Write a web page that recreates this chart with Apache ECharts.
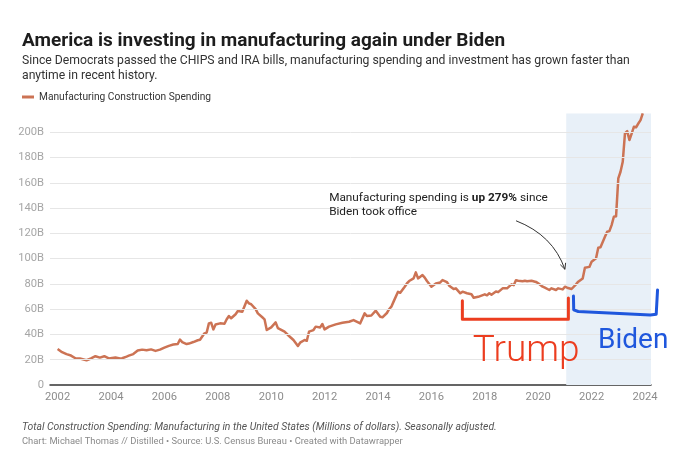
<!DOCTYPE html>
<html>
<head>
<meta charset="utf-8">
<script src="https://cdn.jsdelivr.net/npm/echarts@6/dist/echarts.min.js"></script>
<style>
html,body{margin:0;padding:0;background:#fff;}
#c{width:680px;height:468px;}
</style>
</head>
<body>
<div id="c"></div>
<script>
// ---- data ----
const seriesName = 'Manufacturing Construction Spending';
const months = [
"2002-01","2002-03","2002-05","2002-07","2002-09","2002-11","2003-02","2003-04","2003-06","2003-08","2003-10","2003-12",
"2004-03","2004-05","2004-06","2004-08","2004-09","2004-11","2005-01","2005-03","2005-05","2005-07","2005-09","2005-11",
"2006-01","2006-03","2006-05","2006-07","2006-08","2006-09","2006-11","2006-12","2007-02","2007-04","2007-05","2007-07",
"2007-08","2007-09","2007-10","2007-11","2007-12","2008-02","2008-04","2008-05","2008-06","2008-07","2008-09","2008-10",
"2008-12","2009-02","2009-03","2009-04","2009-06","2009-07","2009-09","2009-10","2009-11","2010-01","2010-03","2010-04",
"2010-07","2010-09","2010-11","2011-01","2011-02","2011-04","2011-05","2011-06","2011-08","2011-09","2011-11","2011-12",
"2012-01","2012-03","2012-06","2012-09","2012-12","2013-02","2013-05","2013-07","2013-08","2013-10","2013-12","2014-02",
"2014-03","2014-05","2014-06","2014-07","2014-08","2014-10","2014-11","2015-01","2015-02","2015-03","2015-05","2015-06",
"2015-07","2015-09","2015-10","2015-11","2016-01","2016-03","2016-05","2016-06","2016-08","2016-09","2016-11","2016-12",
"2017-02","2017-03","2017-05","2017-07","2017-08","2017-10","2018-01","2018-02","2018-03","2018-04","2018-06","2018-07",
"2018-09","2018-11","2019-01","2019-02","2019-03","2019-04","2019-06","2019-07","2019-08","2019-10","2019-12","2020-01",
"2020-03","2020-04","2020-06","2020-07","2020-09","2020-10","2020-12","2021-01","2021-02","2021-04","2021-06","2021-07",
"2021-09","2021-10","2021-12","2022-01","2022-03","2022-04","2022-05","2022-07","2022-08","2022-09","2022-10","2022-11",
"2022-12","2023-01","2023-02","2023-03","2023-04","2023-05","2023-06","2023-07","2023-08","2023-09","2023-10","2023-11",
"2023-12"
];
const spending = [
28.5,26,24.4,23.3,21.2,21,19.6,21,22.8,21.7,22.8,21,
21.8,21,21.2,22.5,23.2,24.5,27.3,28,27.5,28.2,27,28,
29.6,31,32,32.5,36,34,32.4,32.8,34,35.4,35.8,40.9,
41.5,48.8,49.3,44,47.9,48.8,48.5,52,54.6,52.8,56,58.6,
58,66.7,64.6,63.9,60,56.7,53.6,52,43.5,45.6,49.6,45,
42.2,38.8,35.6,30.9,33.5,35.6,35,42.2,43.5,46.2,45.6,48.3,
44,46.2,48,49.3,50.1,51.4,48.8,56.7,54.6,55,58.8,54,
53.6,57,60,62,66,73.8,73,77.8,80.4,82.3,84.4,89.2,
84.4,87,85,82.3,77.8,80.4,81.2,83.1,81.5,78.6,76,76.5,
72.6,73.9,72.6,71.8,69.1,69.8,71.8,71,72.6,71.5,74,73.5,
76.5,76.5,79.7,79,82.9,82.5,82.1,82.5,82.1,82.5,81.6,80.5,
77.8,77,75.2,76.5,75.2,76.5,75.7,77.8,77,76,79.7,81.8,
84.4,92.9,93.5,97.6,100.3,108.7,109,117.4,121.3,121.8,126.6,133.2,
133.5,163.6,168.8,176.7,199.2,201,193.9,199,204.4,204,207,209.7,
215
];
const xTickYears = [2002,2004,2006,2008,2010,2012,2014,2016,2018,2020,2022,2024];
const yGridValues = [20,40,60,80,100,120,140,160,180,200];
const xMin = 2001.715, xMax = 2024.225;
const yMin = 0, yMax = 215, yStep = 20;
const bidenStart = 2021.05;

const titleText = 'America is investing in manufacturing again under Biden';
const subtitleText = 'Since Democrats passed the CHIPS and IRA bills, manufacturing spending and investment has grown faster than\nanytime in recent history.';
const noteText = 'Total Construction Spending: Manufacturing in the United States (Millions of dollars). Seasonally adjusted.';
const creditText = 'Chart: Michael Thomas // Distilled \u2022 Source: U.S. Census Bureau \u2022 Created with Datawrapper';

// ---- build ----
const toYear = s => +s.slice(0,4) + (+s.slice(5,7) - 1) / 12;
const lineData = months.map((m, i) => [toYear(m), spending[i]]);

const FONT = 'Roboto';
const chart = echarts.init(document.getElementById('c'), null, {renderer: 'canvas'});

chart.setOption({
  animation: false,
  backgroundColor: '#fff',
  title: [{
    text: titleText,
    subtext: subtitleText,
    left: 17, top: 27,
    itemGap: 2,
    textStyle: {fontFamily: FONT, fontSize: 19, fontWeight: 'bold', color: '#1d1d1d'},
    subtextStyle: {fontFamily: FONT, fontSize: 12.2, color: '#333', lineHeight: 15}
  }, {
    text: noteText,
    subtext: creditText,
    left: 17, top: 417,
    itemGap: 5,
    textStyle: {fontFamily: FONT, fontSize: 10.4, fontStyle: 'italic', fontWeight: 'normal', color: '#555'},
    subtextStyle: {fontFamily: FONT, fontSize: 9.4, color: '#8a8a8a'}
  }],
  legend: {
    data: [seriesName],
    left: 17, top: 87,
    icon: 'rect', itemWidth: 12, itemHeight: 3, itemGap: 6,
    textStyle: {fontFamily: FONT, fontSize: 10.2, color: '#333'},
    selectedMode: false
  },
  grid: {left: 50, right: 29, top: 113.4, bottom: 83, containLabel: false},
  xAxis: {
    type: 'value', min: xMin, max: xMax,
    axisLine: {show: true, onZero: false, lineStyle: {color: '#333', width: 1.5}},
    axisTick: {show: false},
    splitLine: {show: false},
    axisLabel: {
      customValues: xTickYears, margin: 7,
      fontFamily: FONT, fontSize: 11.2, color: '#8c8c8c',
      formatter: v => String(Math.round(v))
    }
  },
  yAxis: {
    type: 'value', min: yMin, max: yMax, interval: yStep,
    axisLine: {show: false}, axisTick: {show: false},
    splitLine: {show: false},
    axisLabel: {
      showMaxLabel: false, margin: 6,
      fontFamily: FONT, fontSize: 11.2, color: '#a6a6a6',
      formatter: v => v > 200 ? '' : (v === 0 ? '0' : v + 'B')
    }
  },
  series: [{
    type: 'line', name: '__shade', data: [], silent: true, z: 1,
    markArea: {
      silent: true,
      itemStyle: {color: '#e8f0f8'},
      data: [[{xAxis: bidenStart}, {xAxis: xMax}]]
    }
  }, {
    type: 'line', name: '__grid', data: [], silent: true, z: 2,
    markLine: {
      silent: true, symbol: ['none', 'none'], animation: false,
      label: {show: false},
      lineStyle: {color: '#e6e6e6', type: 'solid', width: 1},
      data: yGridValues.map(v => ({yAxis: v}))
    }
  }, {
    type: 'line', name: seriesName, data: lineData, z: 3,
    showSymbol: false, symbol: 'none', smooth: false,
    lineStyle: {color: '#cc7354', width: 2.5, join: 'round'},
    itemStyle: {color: '#cc7354'}
  }]
});

// ---- annotations anchored to data coordinates ----
const P = (x, y) => chart.convertToPixel({gridIndex: 0}, [x, y]);
const txt = P(2012.17, 154);
const a0 = P(2019.17, 130.0), a1 = P(2021.0, 91.6), ac = P(2020.55, 118.7);
const dx = a1[0] - ac[0], dy = a1[1] - ac[1], L = Math.hypot(dx, dy);
const ux = dx / L, uy = dy / L, hl = 6.5, ang = 0.45;
const rot = (x, y, t) => [x * Math.cos(t) - y * Math.sin(t), x * Math.sin(t) + y * Math.cos(t)];
const h1 = rot(-ux * hl, -uy * hl, ang), h2 = rot(-ux * hl, -uy * hl, -ang);

const redPts = [[2017.16, 66.7], [2017.16, 52], [2021.13, 52], [2021.13, 68.9]].map(p => P(p[0], p[1]));
const bluePts = [[2021.32, 70.4], [2021.33, 59.5], [2021.5, 58.2], [2024.2, 55.4], [2024.42, 56], [2024.47, 75.2]].map(p => P(p[0], p[1]));
const trumpPos = P(2017.55, 26.0);
const bidenPos = P(2022.24, 34.5);

chart.setOption({
  graphic: [{
    type: 'text', x: txt[0], y: txt[1], z: 50,
    style: {
      text: '{n|Manufacturing spending is }{b|up 279%}{n| since}\n{n|Biden took office}',
      verticalAlign: 'top', align: 'left',
      rich: {
        n: {fontFamily: FONT, fontSize: 11.8, fill: '#222', lineHeight: 14.5},
        b: {fontFamily: FONT, fontSize: 11.8, fontWeight: 'bold', fill: '#222', lineHeight: 14.5}
      }
    }
  }, {
    type: 'bezierCurve', z: 50,
    shape: {x1: a0[0], y1: a0[1], x2: a1[0], y2: a1[1], cpx1: ac[0], cpy1: ac[1]},
    style: {stroke: '#333', lineWidth: 1, fill: null}
  }, {
    type: 'polyline', z: 50,
    shape: {points: [[a1[0] + h1[0], a1[1] + h1[1]], a1, [a1[0] + h2[0], a1[1] + h2[1]]]},
    style: {stroke: '#333', lineWidth: 1, fill: null}
  }, {
    type: 'polyline', z: 60,
    shape: {points: redPts},
    style: {stroke: '#ec3d1f', lineWidth: 3, lineCap: 'round', lineJoin: 'round', fill: null}
  }, {
    type: 'polyline', z: 60,
    shape: {points: bluePts},
    style: {stroke: '#1f57dd', lineWidth: 3, lineCap: 'round', lineJoin: 'round', fill: null}
  }, {
    type: 'text', x: trumpPos[0], y: trumpPos[1], z: 60,
    style: {text: 'Trump', fontFamily: FONT, fontSize: 37, fontWeight: 300, fill: '#ec3d1f', verticalAlign: 'middle', align: 'left'}
  }, {
    type: 'text', x: bidenPos[0], y: bidenPos[1], z: 60,
    style: {text: 'Biden', fontFamily: FONT, fontSize: 28, fontWeight: 'normal', fill: '#1f57dd', verticalAlign: 'middle', align: 'left'}
  }]
});
</script>
</body>
</html>
